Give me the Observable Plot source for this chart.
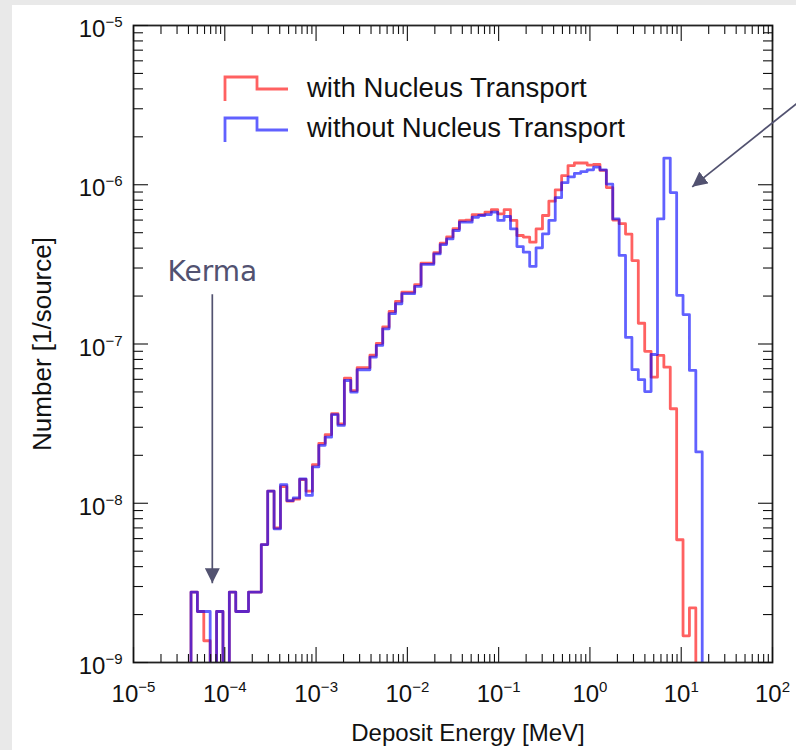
<!DOCTYPE html>
<html><head><meta charset="utf-8">
<script src="https://cdn.jsdelivr.net/npm/d3@7"></script>
<script src="https://cdn.jsdelivr.net/npm/@observablehq/plot@0.6"></script>
<style>
html,body{margin:0;padding:0;background:#e9e9e9;}
#wrap{position:relative;width:796px;height:750px;overflow:hidden;}
#panel{position:absolute;left:12px;top:5px;right:0;bottom:0;background:#fff;}
#chart{position:absolute;left:0;top:0;}
#legend{position:absolute;left:0;top:0;pointer-events:none;}
</style></head><body>
<div id="wrap"><div id="panel"></div><div id="chart"></div><svg id="legend" width="796" height="750"></svg></div>
<script>
// ---- histogram binning: 100 log-uniform bins from 1e-5 to 1e2 MeV ----
const binLogStart = -5;
const binLogWidth = 0.07;

// ---- series values (Number [1/source]) per bin; 0 = empty bin ----
const withNucleusTransport = [
  0,0,0,0,0,0,0,0,0,
  2.77e-9, 2.09e-9, 1.37e-9, 0, 2.09e-9, 0, 2.77e-9, 2.09e-9, 2.09e-9, 2.77e-9, 2.77e-9,
  5.5e-9, 1.19e-8, 7.0e-9, 1.27e-8, 1.03e-8, 1.06e-8, 1.41e-8, 1.19e-8, 1.75e-8, 2.38e-8,
  2.7e-8, 3.65e-8, 3.15e-8, 6.1e-8, 5.1e-8, 7.1e-8, 7.1e-8, 8.5e-8, 1.01e-7, 1.28e-7,
  1.6e-7, 1.85e-7, 2.12e-7, 2.12e-7, 2.36e-7, 3.22e-7, 3.22e-7, 3.75e-7, 4.3e-7, 4.7e-7,
  5.3e-7, 5.95e-7, 6.0e-7, 6.5e-7, 6.5e-7, 6.73e-7, 6.97e-7, 6.57e-7, 6.97e-7, 5.97e-7,
  4.8e-7, 4.69e-7, 4.36e-7, 5.28e-7, 6.41e-7, 7.89e-7, 9.29e-7, 1.14e-6, 1.32e-6, 1.37e-6,
  1.37e-6, 1.33e-6, 1.34e-6, 1.23e-6, 9.6e-7, 6.0e-7, 5.7e-7, 4.9e-7, 3.34e-7, 1.35e-7,
  9.0e-8, 6.19e-8, 8.48e-8, 7.15e-8, 3.92e-8, 5.9e-9, 1.47e-9, 2.2e-9,
  0,0,0,0,0,0,0,0,0,0,0,0
];
const withoutNucleusTransport = [
  0,0,0,0,0,0,0,0,0,
  2.77e-9, 2.09e-9, 2.09e-9, 0, 2.09e-9, 0, 2.77e-9, 2.09e-9, 2.09e-9, 2.77e-9, 2.77e-9,
  5.5e-9, 1.19e-8, 6.9e-9, 1.31e-8, 1.04e-8, 1.08e-8, 1.42e-8, 1.12e-8, 1.69e-8, 2.31e-8,
  2.6e-8, 3.6e-8, 3.08e-8, 5.9e-8, 4.98e-8, 6.89e-8, 6.89e-8, 8.26e-8, 9.8e-8, 1.245e-7,
  1.55e-7, 1.79e-7, 2.07e-7, 2.07e-7, 2.3e-7, 3.16e-7, 3.16e-7, 3.68e-7, 4.21e-7, 4.57e-7,
  5.16e-7, 5.82e-7, 5.82e-7, 6.25e-7, 6.41e-7, 6.5e-7, 6.73e-7, 5.97e-7, 6.32e-7, 5.28e-7,
  4.09e-7, 3.77e-7, 3.07e-7, 4.02e-7, 4.92e-7, 5.97e-7, 8.3e-7, 1.03e-6, 1.12e-6, 1.18e-6,
  1.21e-6, 1.24e-6, 1.29e-6, 1.24e-6, 1.01e-6, 6.1e-7, 3.6e-7, 1.1e-7, 6.9e-8, 5.98e-8,
  5.03e-8, 8.59e-8, 6.1e-7, 1.47e-6, 8.93e-7, 2.02e-7, 1.53e-7, 6.82e-8, 2.1e-8,
  0,0,0,0,0,0,0,0,0,0,0
];

// ---- legend / axis text ----
const seriesNames = ["with Nucleus Transport", "without Nucleus Transport"];
const seriesColors = ["#ff0000", "#0000ff"];
const xTitle = "Deposit Energy [MeV]";
const yTitle = "Number [1/source]";
const xDecades = [1e-5, 1e-4, 1e-3, 1e-2, 1e-1, 1e0, 1e1, 1e2];
const yDecades = [1e-9, 1e-8, 1e-7, 1e-6, 1e-5];

// ---- annotations ----
const annotColor = "#525270";
const kermaLabel = [{x: 7.3e-5, y: 2.85e-7, text: "Kerma"}];
const arrows = [
  {x1: 7.3e-5, y1: 2.05e-7, x2: 7.3e-5, y2: 3.15e-9},
  {x1: 205, y1: 3.4e-6, x2: 13.2, y2: 9.7e-7}
];

// ---- build step tables ----
const FLOOR = 1e-12; // empty bins drawn below the frame (clipped)
function steps(vals) {
  const out = [];
  for (let k = 0; k <= vals.length; k++) {
    const v = vals[Math.min(k, vals.length - 1)];
    out.push({e: Math.pow(10, binLogStart + binLogWidth * k), n: v > 0 ? v : FLOOR});
  }
  return out;
}
const redSteps = steps(withNucleusTransport);
const blueSteps = steps(withoutNucleusTransport);
const minorOf = decs => decs.slice(0, -1).flatMap(d => d3.range(2, 10).map(m => m * d));
const xMinor = minorOf(xDecades);
const yMinor = minorOf(yDecades);
const fmt = d => "10^" + Math.round(Math.log10(d));
const ink = "#111";
const tickOpts = (anchor, ticks, size) => ({anchor, ticks, tickSize: size, fill: "none", stroke: ink, strokeWidth: 1.1, label: null});

const plot = Plot.plot({
  width: 796, height: 750,
  marginLeft: 133, marginRight: 24, marginTop: 25, marginBottom: 88,
  style: {background: "transparent", fontFamily: "'Liberation Sans', Arial, sans-serif", color: ink},
  x: {type: "log", domain: [1e-5, 1e2]},
  y: {type: "log", domain: [1e-9, 1e-5]},
  marks: [
    Plot.line(redSteps, {x: "e", y: "n", curve: "step-after", stroke: seriesColors[0], strokeOpacity: 0.62, strokeWidth: 2.8, clip: true}),
    Plot.line(blueSteps, {x: "e", y: "n", curve: "step-after", stroke: seriesColors[1], strokeOpacity: 0.62, strokeWidth: 2.8, clip: true}),
    Plot.frame({stroke: "#222", strokeWidth: 1.8}),
    Plot.axisX(tickOpts("bottom", xDecades, -15)),
    Plot.axisX(tickOpts("bottom", xMinor, -8)),
    Plot.axisX(tickOpts("top", xDecades, -15)),
    Plot.axisX(tickOpts("top", xMinor, -8)),
    Plot.axisY(tickOpts("left", yDecades, -15)),
    Plot.axisY(tickOpts("left", yMinor, -10)),
    Plot.axisY(tickOpts("right", yDecades, -15)),
    Plot.axisY(tickOpts("right", yMinor, -10)),
    Plot.axisX({anchor: "bottom", ticks: xDecades, tickSize: 0, tickPadding: 22, tickFormat: fmt, label: null, fontSize: 24, fill: ink}),
    Plot.axisY({anchor: "left", ticks: yDecades, tickSize: 0, tickPadding: 11, tickFormat: fmt, label: null, fontSize: 24, fill: ink, dy: 4}),
    Plot.text([xTitle], {text: d => d, frameAnchor: "bottom", textAnchor: "middle", lineAnchor: "middle", dx: 15, dy: 71, fontSize: 24, fill: ink}),
    Plot.text([yTitle], {text: d => d, frameAnchor: "left", textAnchor: "middle", lineAnchor: "middle", dx: -91, rotate: -90, fontSize: 26, fill: ink}),
    Plot.link(arrows, {x1: "x1", y1: "y1", x2: "x2", y2: "y2", stroke: annotColor, strokeWidth: 1.7, markerEnd: "arrow"}),
    Plot.text(kermaLabel, {x: "x", y: "y", text: "text", fontSize: 28, fontFamily: "'DejaVu Sans', sans-serif", fill: annotColor})
  ]
});
document.getElementById("chart").appendChild(plot);

// superscript tick labels
const NS = "http://www.w3.org/2000/svg";
function supers(sel, supSize, rise) {
  plot.querySelectorAll(sel).forEach(t => {
    const m = t.textContent.match(/^10\^(-?\d+)$/);
    if (!m) return;
    t.textContent = "";
    const a = document.createElementNS(NS, "tspan"); a.textContent = "10"; t.appendChild(a);
    const b = document.createElementNS(NS, "tspan");
    b.setAttribute("dy", -rise); b.setAttribute("font-size", supSize);
    b.textContent = m[1].replace("-", "\u2212"); t.appendChild(b);
  });
}
supers('g[aria-label="x-axis tick label"] text', 15, 10);
supers('g[aria-label="y-axis tick label"] text', 15, 10);

// turn Plot's arrow markers into filled triangular heads
plot.querySelectorAll("marker").forEach(mk => {
  mk.setAttribute("viewBox", "0 0 10 10");
  mk.setAttribute("refX", "10");
  mk.setAttribute("refY", "5");
  mk.setAttribute("markerWidth", "15");
  mk.setAttribute("markerHeight", "15");
  mk.setAttribute("markerUnits", "userSpaceOnUse");
  mk.setAttribute("orient", "auto");
  mk.setAttribute("fill", annotColor);
  mk.setAttribute("stroke", "none");
  mk.innerHTML = '<path d="M0,0L10,5L0,10z"></path>';
});

// legend (inside plot frame, top-left)
const leg = d3.select("#legend");
const legRows = [{y: 101, text: 97}, {y: 142, text: 137}];
seriesNames.forEach((name, i) => {
  const r = legRows[i];
  leg.append("path")
    .attr("d", `M225,${r.y}V${r.y - 24}H257V${r.y - 12}H288`)
    .attr("fill", "none").attr("stroke", seriesColors[i]).attr("stroke-opacity", 0.62).attr("stroke-width", 2.8);
  leg.append("text").attr("x", 307).attr("y", r.text)
    .attr("font-family", "'Liberation Sans', Arial, sans-serif").attr("font-size", 27.5).attr("fill", ink)
    .text(name);
});
</script></body></html>
